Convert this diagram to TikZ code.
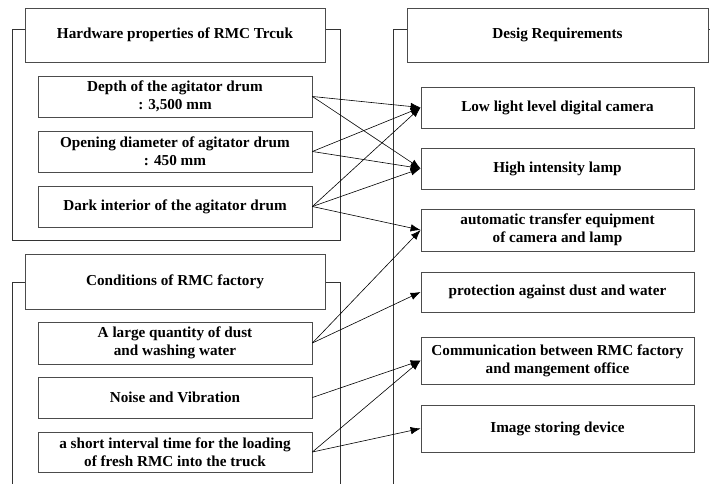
\documentclass[tikz,border=0pt]{standalone}
\usepackage{fontspec}
\setmainfont{Liberation Serif}
\usetikzlibrary{arrows.meta}
\tikzset{
  box/.style={draw=black!70, line width=0.8pt, fill=white, align=center,
    font=\bfseries\fontsize{15.2}{18}\selectfont, inner sep=0pt},
  head/.style={box, minimum width=300pt, minimum height=54pt},
  item/.style={box, minimum width=274pt, minimum height=41pt},
  link/.style={-{Latex[length=10pt,width=7.5pt]}, line width=0.6pt},
}
\begin{document}
\begin{tikzpicture}[x=1pt,y=-1pt]
			\clip (0,0) rectangle (710,484);
			% frames
			\draw [black!80, line width=0.8pt] (12,29) rectangle (340,240);
			\draw [black!80, line width=0.8pt] (12,490)-- (12,282)-- (340,282)-- (340,490);
			\draw [black!80, line width=0.8pt] (393,490)-- (393,29)-- (715,29);
			% headers
			\node [head] (hw) at (175,35) {Hardware properties of RMC Trcuk};
			\node [head, minimum height=55pt] (cond) at (175,281.5) {Conditions of RMC factory};
			\node [head, minimum width=301pt] (req) at (557.5,35) {Desig Requirements};
			% left items
			\node [item] (depth) at (175,96.5) {Depth of the agitator drum\\: 3,500 mm};
			\node [item] (open) at (175,151.5) {Opening diameter of agitator drum\\: 450 mm};
			\node [item] (dark) at (175,206.5) {Dark interior of the agitator drum};
			\node [item, minimum height=42pt] (dust) at (175,343) {A large quantity of dust\\and washing water};
			\node [item] (noise) at (175,397.5) {Noise and Vibration};
			\node [item, minimum height=40pt] (short) at (175,452) {a short interval time for the loading\\of fresh RMC into the truck};
			% right items
			\node [item, minimum width=273pt] (cam) at (557.5,107.5) {Low light level digital camera};
			\node [item, minimum width=273pt] (lamp) at (557.5,168.5) {High intensity lamp};
			\node [item, minimum width=273pt, minimum height=42pt] (trans) at (557.5,230) {automatic transfer equipment\\of camera and lamp};
			\node [item, minimum width=273pt, minimum height=40pt] (prot) at (557.5,292) {protection against dust and water};
			\node [item, minimum width=273pt, minimum height=47pt] (comm) at (557.5,360.5) {Communication between RMC factory\\and mangement office};
			\node [item, minimum width=273pt, minimum height=47pt] (store) at (557.5,428.5) {Image storing device};
			% links
			\draw [link] (depth.east)-- (cam.west);
			\draw [link] (depth.east)-- (lamp.west);
			\draw [link] (open.east)-- (cam.west);
			\draw [link] (open.east)-- (lamp.west);
			\draw [link] (dark.east)-- (cam.west);
			\draw [link] (dark.east)-- (lamp.west);
			\draw [link] (dark.east)-- (trans.west);
			\draw [link] (dust.east)-- (trans.west);
			\draw [link] (dust.east)-- (prot.west);
			\draw [link] (noise.east)-- (comm.west);
			\draw [link] (short.east)-- (comm.west);
			\draw [link] (short.east)-- (store.west);
		\end{tikzpicture}
\end{document}
